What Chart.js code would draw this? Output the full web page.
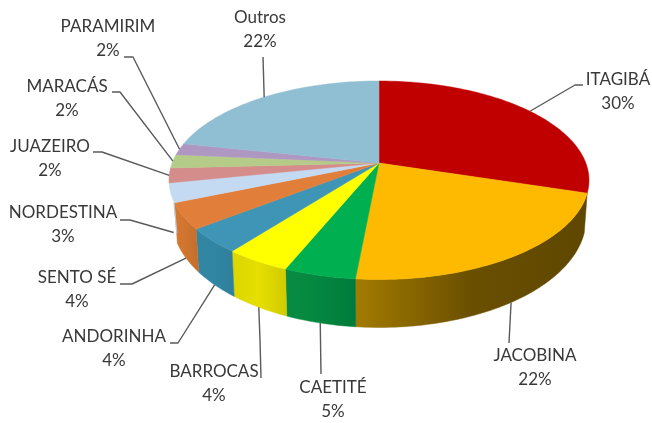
<!DOCTYPE html>
<html>
<head>
<meta charset="utf-8">
<title>Pie</title>
<script src="https://cdn.jsdelivr.net/npm/chart.js@4"></script>
<style>
  html, body { margin: 0; padding: 0; background: #fff; }
  canvas { display: block; }
</style>
</head>
<body>
<canvas id="pie" width="652" height="423"></canvas>
<script>
// Values
const categories = ['ITAGIBÁ', 'JACOBINA', 'CAETITÉ', 'BARROCAS', 'ANDORINHA', 'SENTO SÉ', 'NORDESTINA', 'JUAZEIRO', 'MARACÁS', 'PARAMIRIM', 'Outros'];
const shares = [29.8, 21.7, 4.7, 4.3, 4.0, 4.2, 3.1, 2.4, 2.2, 1.9, 21.7];
const printedPercents = ['30%', '22%', '5%', '4%', '4%', '4%', '3%', '2%', '2%', '2%', '22%'];

// Styles
const topColors = ['#C00000', '#FDBA00', '#00B050', '#FFFF00', '#3F95B5', '#E17E3A', '#C4D9F2', '#D48D8B', '#B5CC88', '#AE97C0', '#90BED2'];
const wallShades = [
    null,
    ['#5f4700', '#644b00', '#6a4f00', '#876500', '#a37b00'],
    ['#007a3b', '#03863f', '#098c42'],
    ['#d2cb00', '#e6df00', '#dcd500'],
    ['#2f809c', '#3186a3', '#3286a2'],
    ['#c66f2c', '#d0752f', '#d47831']
];

// Label centre x, first line y, then the elbow of the leader line
const labelSpots = [
    [618, 80, [583, 85], [575, 85]],
    [535, 356, [509, 343]],
    [333, 388, [321, 374]],
    [214, 372, [261, 378], [260, 340]],
    [114, 337, [170, 343], [178, 343]],
    [77, 278, [120, 284], [132, 284]],
    [63, 213, [120, 220], [130, 220]],
    [50, 147, [93, 152], [102, 152]],
    [67, 87, [112, 92], [120, 92]],
    [108, 27, [124, 57], [133, 57]],
    [260, 18, [263, 57]]
];

// Perspective of the pie: unit circle to the screen
const apexX = 379, apexY = 163, spreadX = 206.8, spreadY = 96.25, tilt = 0.1738;
const rimCx = 378, rimCy = 180.5;

function topPoint(angle) {
    const u = Math.cos(angle), v = Math.sin(angle);
    const d = 1 - tilt * v;
    return [apexX + spreadX * u / d, apexY + spreadY * v / d];
}

function lowPoint(angle) {
    const p = topPoint(angle);
    return [rimCx + (p[0] - rimCx) * 207 / 210, 219 + (p[1] - rimCy) * 109 / 99.5];
}

function tracePoints(ctx, fn, from, to) {
    const steps = Math.max(2, Math.ceil(Math.abs(to - from) / 0.02));
    for (let s = 0; s <= steps; s++) {
        const p = fn(from + (to - from) * s / steps);
        ctx.lineTo(p[0], p[1]);
    }
}

const pie3d = {
    id: 'pie3d',
    beforeDatasetDraw(chart) {
        const ctx = chart.ctx;
        const arcs = chart.getDatasetMeta(0).data;
        ctx.save();
        ctx.lineJoin = 'round';

        // Side walls
        arcs.forEach((arc, i) => {
            const shades = wallShades[i];
            if (!shades) return;
            const a = arc.startAngle, b = arc.endAngle;
            const grad = ctx.createLinearGradient(topPoint(a)[0], 0, topPoint(b)[0], 0);
            shades.forEach((c, k) => grad.addColorStop(k / (shades.length - 1), c));
            ctx.beginPath();
            tracePoints(ctx, topPoint, a, b);
            tracePoints(ctx, lowPoint, b, a);
            ctx.closePath();
            ctx.fillStyle = grad;
            ctx.strokeStyle = grad;
            ctx.lineWidth = 0.5;
            ctx.fill();
            ctx.stroke();
        });

        // Thin edge of the pale slice, left of the last wall
        const edge = arcs[6].startAngle;
        ctx.beginPath();
        ctx.moveTo(topPoint(edge)[0] - 0.5, topPoint(edge)[1]);
        ctx.lineTo(lowPoint(edge)[0] - 0.5, lowPoint(edge)[1] - 10);
        ctx.strokeStyle = '#bcc8e0';
        ctx.lineWidth = 1.2;
        ctx.stroke();

        // Top faces
        arcs.forEach((arc, i) => {
            ctx.beginPath();
            ctx.moveTo(apexX, apexY);
            tracePoints(ctx, topPoint, arc.startAngle, arc.endAngle);
            ctx.closePath();
            ctx.fillStyle = topColors[i];
            ctx.strokeStyle = topColors[i];
            ctx.lineWidth = 0.5;
            ctx.fill();
            ctx.stroke();
        });

        // Leader lines
        ctx.strokeStyle = '#5a5a5a';
        ctx.lineWidth = 1.4;
        arcs.forEach((arc, i) => {
            const mid = (arc.startAngle + arc.endAngle) / 2;
            const anchor = Math.sin(mid) > 0.2 ? lowPoint(mid) : topPoint(mid);
            ctx.beginPath();
            labelSpots[i].slice(2).forEach((p, k) => {
                if (k === 0) ctx.moveTo(p[0], p[1]); else ctx.lineTo(p[0], p[1]);
            });
            ctx.lineTo(anchor[0], anchor[1]);
            ctx.stroke();
        });

        // Labels
        ctx.fillStyle = '#383838';
        ctx.font = '17px Lato';
        ctx.textAlign = 'center';
        ctx.textBaseline = 'middle';
        categories.forEach((name, i) => {
            const spot = labelSpots[i];
            ctx.fillText(name, spot[0], spot[1]);
            ctx.fillText(printedPercents[i], spot[0], spot[1] + 23.5);
        });

        ctx.restore();
        return false;
    }
};

new Chart(document.getElementById('pie'), {
    type: 'pie',
    data: {
        labels: categories,
        datasets: [{
            data: shares,
            backgroundColor: topColors,
            borderWidth: 0
        }]
    },
    options: {
        responsive: false,
        animation: false,
        plugins: {
            legend: { display: false },
            tooltip: { enabled: false }
        }
    },
    plugins: [pie3d]
});
</script>
</body>
</html>
